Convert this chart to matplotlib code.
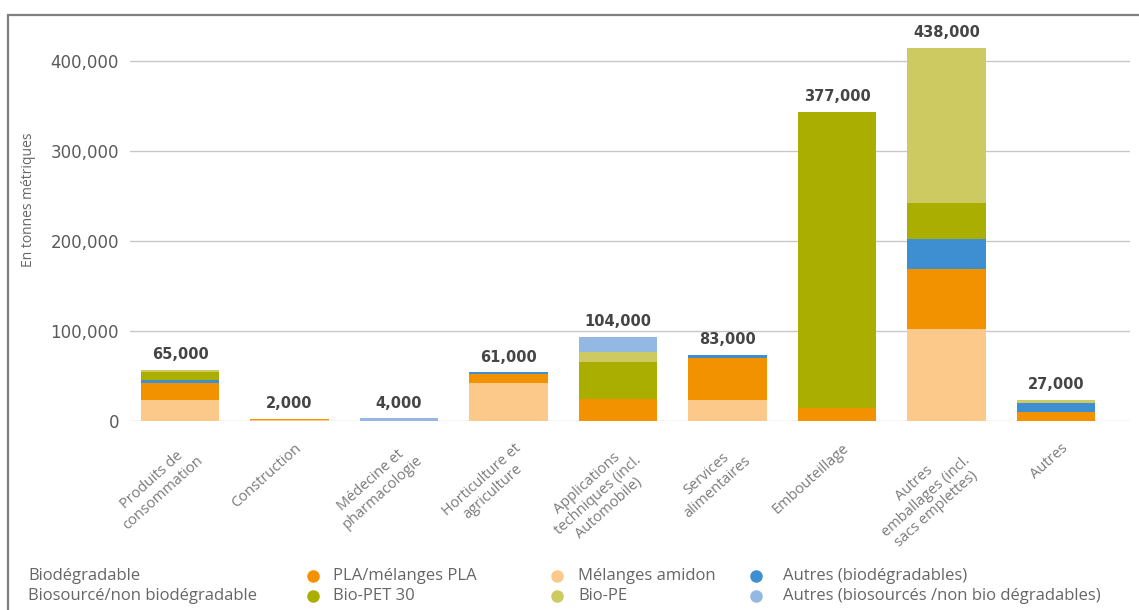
import numpy as np
import matplotlib.pyplot as plt
from matplotlib.lines import Line2D
from matplotlib.patches import Rectangle
from matplotlib.transforms import ScaledTranslation

categories = ["Produits de\nconsommation", "Construction", "Médecine et\npharmacologie",
              "Horticulture et\nagriculture", "Applications\ntechniques (incl.\nAutomobile)",
              "Services\nalimentaires", "Embouteillage",
              "Autres\nemballages (incl.\nsacs emplettes)", "Autres"]
totals = [65000, 2000, 4000, 61000, 104000, 83000, 377000, 438000, 27000]

# segment heights as drawn (bottom -> top), tonnes
melanges_amidon = [23000, 1000, 0, 42000, 0, 23000, 0, 102000, 0]
pla = [19000, 1000, 0, 10000, 24000, 47000, 14000, 67000, 10000]
autres_bio = [4000, 0, 0, 2000, 0, 3000, 0, 33000, 10000]
bio_pet = [8000, 0, 0, 0, 42000, 0, 329000, 40000, 0]
bio_pe = [3000, 0, 0, 0, 11000, 0, 0, 172000, 3000]
autres_biosources = [0, 0, 3000, 0, 16000, 0, 0, 0, 0]

series = [
    ("Mélanges amidon", melanges_amidon, "#FCC98A"),
    ("PLA/mélanges PLA", pla, "#F29200"),
    ("Autres (biodégradables)", autres_bio, "#3E8FD2"),
    ("Bio-PET 30", bio_pet, "#AAAE00"),
    ("Bio-PE", bio_pe, "#CDCA62"),
    ("Autres (biosourcés /non bio dégradables)", autres_biosources, "#93B9E3"),
]

fig = plt.figure(figsize=(11.39, 6.10), dpi=100)
ax = fig.add_axes([130 / 1139, 1 - 421 / 610, 1000 / 1139, 401 / 610])

x = np.arange(len(categories))
bottom = np.zeros(len(categories))
for name, vals, col in series:
    ax.bar(x, vals, width=0.72, bottom=bottom, color=col, zorder=3)
    bottom += np.array(vals)

for xi, top, t in zip(x, bottom, totals):
    ax.annotate(f"{t:,}", (xi, top), xytext=(0, 11), textcoords="offset points",
                ha="center", va="center", fontsize=10.5, fontweight="bold",
                color="#454545", family="DejaVu Sans", zorder=4)

ax.set_xlim(-0.457, 8.676)
ax.set_ylim(0, 445000)
ax.set_yticks([0, 100000, 200000, 300000, 400000])
ax.set_yticklabels(["0", "100,000", "200,000", "300,000", "400,000"],
                   fontsize=12, color="#5a5a5a", family="DejaVu Sans")
ax.tick_params(axis="y", length=0, pad=8)
ax.grid(axis="y", color="#c8c8c8", linewidth=1, zorder=0)
for s in ax.spines.values():
    s.set_visible(False)

ax.set_xticks(x)
ax.set_xticklabels(categories, rotation=42, ha="right", va="top",
                   rotation_mode="anchor", fontsize=10.5, color="#7a7a7a",
                   family="Open Sans", linespacing=1.15)
ax.tick_params(axis="x", length=0, pad=14)
for lbl in ax.get_xticklabels():
    lbl.set_multialignment("center")
    lbl.set_transform(lbl.get_transform() + ScaledTranslation(0.05, 0, fig.dpi_scale_trans))

fig.text(28 / 1139, 1 - 200 / 610, "En tonnes métriques", rotation=90,
         ha="center", va="center", fontsize=10, color="#666666", family="Open Sans")

# legend
leg_color = "#666666"
row_y = [1 - 576 / 610, 1 - 596 / 610]
fig.text(28 / 1139, row_y[0], "Biodégradable", va="center", fontsize=12,
         color=leg_color, family="Open Sans")
fig.text(28 / 1139, row_y[1], "Biosourcé/non biodégradable", va="center", fontsize=12,
         color=leg_color, family="Open Sans")
dot_x = [313, 557, 756]
text_x = [333, 578, 783]
legend_order = [[1, 0, 2], [3, 4, 5]]
for row, idxs in enumerate(legend_order):
    for col_i, idx in enumerate(idxs):
        name, _, col = series[idx]
        fig.add_artist(Line2D([dot_x[col_i] / 1139], [row_y[row]], marker="o", markersize=8,
                              color=col, transform=fig.transFigure))
        fig.text(text_x[col_i] / 1139, row_y[row], name, va="center", fontsize=12,
                 color=leg_color, family="Open Sans")

# outer frame
fig.add_artist(Rectangle((8 / 1139, -0.1), 1.2, 1.1 - 15 / 610, fill=False,
                         edgecolor="#808080", linewidth=1.6, transform=fig.transFigure))

fig.savefig("out.png", dpi=100)
